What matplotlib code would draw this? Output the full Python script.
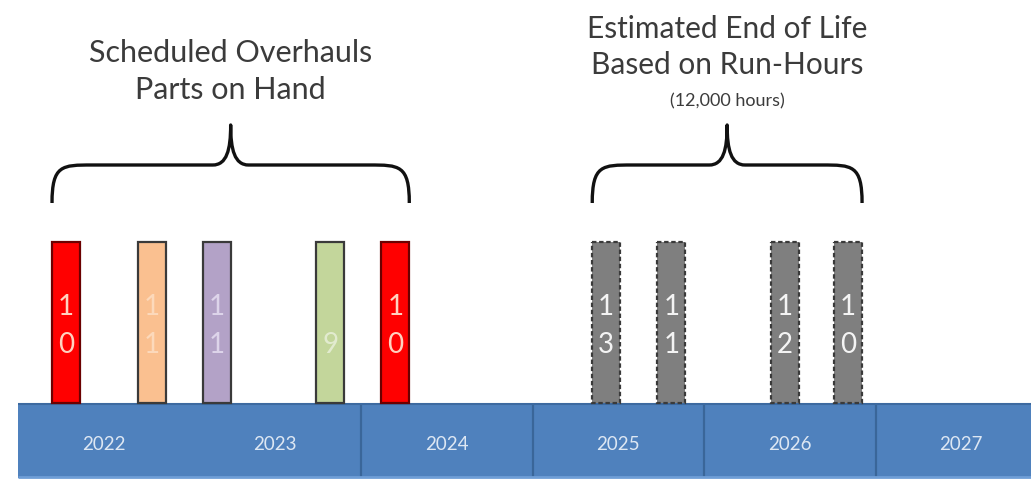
import matplotlib.pyplot as plt
from matplotlib.path import Path
from matplotlib.patches import PathPatch

# ---- data -------------------------------------------------------------------
years = [2022, 2023, 2024, 2025, 2026, 2027]
dividers = [2024, 2025, 2026, 2027]

# scheduled overhauls (parts on hand): timeline position (fractional year)
sched_pos = [2022.28, 2022.78, 2023.16, 2023.82, 2024.20]
sched_lbl = ["10", "11", "11", "9", "10"]
sched_fill = ["#ff0000", "#fac090", "#b3a2c7", "#c3d69b", "#ff0000"]
sched_edge = ["#6b0000", "#3a3a3a", "#3a3a3a", "#3a3a3a", "#6b0000"]
sched_txt = ["#ffd2c0", "#fcd9bb", "#ddd4ea", "#e2ebcf", "#ffd2c0"]

# estimated end of life (12,000 run-hours)
eol_pos = [2025.43, 2025.81, 2026.47, 2026.84]
eol_lbl = ["13", "11", "12", "10"]

# ---- layout (pixel space vertically, years horizontally) --------------------
W, H = 1031, 479
PX_YR = 171.5                 # pixels per year
X0 = 2022 - 18 / PX_YR        # year at left edge of figure
BAR_W = 28 / PX_YR
BAR_TOP, BAR_BOT = 242, 403
TL_TOP, TL_BOT = 403, 478
BLUE = "#4f81bd"
FONT = "Lato"
TXT = "#3b3b3b"

fig = plt.figure(figsize=(W / 100, H / 100), dpi=100)
ax = fig.add_axes([0, 0, 1, 1])
ax.set_xlim(X0, X0 + W / PX_YR)
ax.set_ylim(H, 0)
ax.axis("off")

# ---- timeline ---------------------------------------------------------------
ax.bar(years, TL_BOT - TL_TOP, bottom=TL_TOP, width=1.0, align="edge",
       color=BLUE, edgecolor="none", zorder=1)
ax.vlines(dividers, TL_TOP + 2, TL_BOT, color="#3a6699", lw=1.6, zorder=2)
ax.hlines(TL_TOP + 1, years[0], years[-1] + 1, color="#3d6aa0", lw=1.5, zorder=2)
ax.hlines(TL_BOT - 1, years[0], years[-1] + 1, color="#6f9ed6", lw=2, zorder=2)
for y in years:
    ax.text(y + 0.5, 444, str(y), ha="center", va="center", fontsize=13.5,
            family=FONT, color="#dde7f3", zorder=3)

# ---- scheduled bars ---------------------------------------------------------
ax.bar(sched_pos, BAR_BOT - BAR_TOP, bottom=BAR_TOP, width=BAR_W,
       color=sched_fill, edgecolor=sched_edge, lw=1.6, zorder=4)
for x, lbl, c in zip(sched_pos, sched_lbl, sched_txt):
    ax.text(x, 326, "\n".join(lbl.rjust(2)), ha="center", va="center",
            fontsize=20, family=FONT, color=c, linespacing=1.6, zorder=5)

# ---- end-of-life bars -------------------------------------------------------
ax.bar(eol_pos, BAR_BOT - BAR_TOP, bottom=BAR_TOP, width=BAR_W,
       color="#7f7f7f", edgecolor="#3a3a3a", lw=1.6, ls=(0, (2, 1.2)), zorder=4)
for x, lbl in zip(eol_pos, eol_lbl):
    ax.text(x, 326, "\n".join(lbl.rjust(2)), ha="center", va="center",
            fontsize=20, family=FONT, color="#f4f4f4", linespacing=1.6, zorder=5)


# ---- braces -----------------------------------------------------------------
def brace(x_left, x_right, y_end=203, y_mid=165, y_tip=125):
    tip = (x_left + x_right) / 2
    r1, r2 = 40 / PX_YR, 18 / PX_YR
    k1, k2 = 10 / PX_YR, 4 / PX_YR
    verts = [
        (x_left, y_end), (x_left, y_mid), (x_left + k1, y_mid), (x_left + r1, y_mid),
        (tip - r2, y_mid),
        (tip - k2, y_mid), (tip, y_mid - 15), (tip, y_tip),
        (tip, y_mid - 15), (tip + k2, y_mid), (tip + r2, y_mid),
        (x_right - r1, y_mid),
        (x_right - k1, y_mid), (x_right, y_mid), (x_right, y_end),
    ]
    codes = [Path.MOVETO, Path.CURVE4, Path.CURVE4, Path.CURVE4,
             Path.LINETO,
             Path.CURVE4, Path.CURVE4, Path.CURVE4,
             Path.CURVE4, Path.CURVE4, Path.CURVE4,
             Path.LINETO,
             Path.CURVE4, Path.CURVE4, Path.CURVE4]
    ax.add_patch(PathPatch(Path(verts, codes), fill=False, ec="#111111",
                           lw=2.4, capstyle="butt", joinstyle="round", zorder=3))
    return tip


t1 = brace(min(sched_pos) - BAR_W / 2, max(sched_pos) + BAR_W / 2)
t2 = brace(min(eol_pos) - BAR_W / 2, max(eol_pos) + BAR_W / 2)

# ---- titles -----------------------------------------------------------------
ax.text(t1, 53, "Scheduled Overhauls", ha="center", va="center", fontsize=22,
        family=FONT, color=TXT)
ax.text(t1, 90, "Parts on Hand", ha="center", va="center", fontsize=22,
        family=FONT, color=TXT)
ax.text(t2, 29, "Estimated End of Life", ha="center", va="center", fontsize=21.5,
        family=FONT, color=TXT)
ax.text(t2, 65, "Based on Run-Hours", ha="center", va="center", fontsize=21.5,
        family=FONT, color=TXT)
ax.text(t2, 101, "(12,000 hours)", ha="center", va="center", fontsize=13,
        family=FONT, color=TXT)

fig.savefig("out.png", dpi=100, facecolor="white")
